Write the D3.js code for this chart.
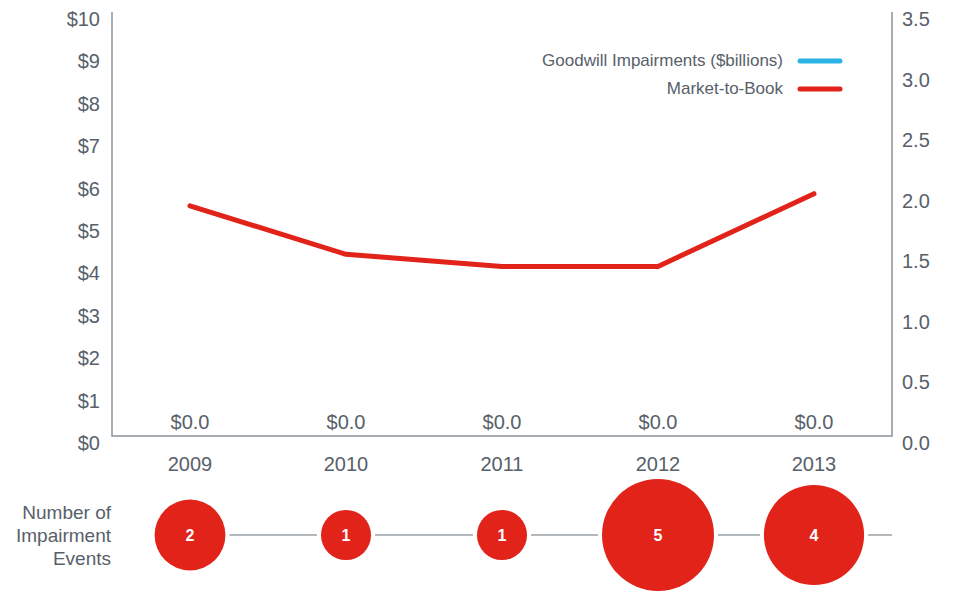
<!DOCTYPE html>
<html><head><meta charset="utf-8">
<script src="https://cdn.jsdelivr.net/npm/d3@7"></script>
<style>body{margin:0;background:#fff}svg{display:block}text{font-family:"Liberation Sans",Arial,sans-serif}</style>
</head><body><svg id="c" width="954" height="591"></svg>
<script>
const years = ["2009","2010","2011","2012","2013"];
const impairments = [0.0, 0.0, 0.0, 0.0, 0.0];
const marketToBook = [1.9, 1.5, 1.4, 1.4, 2.0];
const events = [2, 1, 1, 5, 4];
const leftTicks = [0,1,2,3,4,5,6,7,8,9,10];
const rightTicks = [0,0.5,1,1.5,2,2.5,3,3.5];
const legendLabels = ["Goodwill Impairments ($billions)", "Market-to-Book"];
const colors = {blue:"#2bb3e6", red:"#e2231a", axis:"#8c9299", text:"#58606a"};

const svg = d3.select("#c");
const L = 112, R = 892, T = 12, B = 436;
const x = d3.scaleBand().domain(years).range([L, R]);
const yL = d3.scaleLinear().domain([0, 10]).range([B, T]);
const yR = d3.scaleLinear().domain([0, 3.5]).range([B, T]);

svg.append("path").attr("d", `M${L},${T}V${B}H${R}V${T}`).attr("fill","none")
  .attr("stroke", colors.axis).attr("stroke-width", 1.5);

svg.append("g").selectAll("text").data(leftTicks).join("text")
  .attr("x", 100).attr("y", d => yL(d) + 7).attr("dy","0.35em").attr("text-anchor","end")
  .attr("font-size", 20).attr("fill", colors.text).text(d => "$" + d);
svg.append("g").selectAll("text").data(rightTicks).join("text")
  .attr("x", 902).attr("y", d => yR(d) + 7).attr("dy","0.35em").attr("text-anchor","start")
  .attr("font-size", 20).attr("fill", colors.text).text(d => d3.format(".1f")(d));
svg.append("g").selectAll("text").data(years).join("text")
  .attr("x", d => x(d) + x.bandwidth()/2).attr("y", 464).attr("dy","0.35em").attr("text-anchor","middle")
  .attr("font-size", 20).attr("fill", colors.text).text(d => d);
svg.append("g").selectAll("text").data(impairments).join("text")
  .attr("x", (d,i) => x(years[i]) + x.bandwidth()/2).attr("y", (d) => yL(d) - 14).attr("dy","0.35em")
  .attr("text-anchor","middle").attr("font-size", 20).attr("fill", colors.text)
  .text(d => "$" + d3.format(".1f")(d));

const line = d3.line().x((d,i) => x(years[i]) + x.bandwidth()/2).y(d => yR(d));
svg.append("path").datum(marketToBook).attr("d", line).attr("fill","none")
  .attr("stroke", colors.red).attr("stroke-width", 5).attr("stroke-linecap","round").attr("stroke-linejoin","round");

const lg = svg.append("g");
legendLabels.forEach((t, i) => {
  const yy = 60 + i * 28;
  lg.append("text").attr("x", 783).attr("y", yy).attr("dy","0.35em").attr("text-anchor","end")
    .attr("font-size", 17).attr("fill", colors.text).text(t);
  lg.append("line").attr("x1", 800).attr("x2", 840).attr("y1", yy+1).attr("y2", yy+1)
    .attr("stroke", i === 0 ? colors.blue : colors.red).attr("stroke-width", 5).attr("stroke-linecap","round");
});

const cy = 535;
const r = d3.scaleSqrt().domain([0, 5]).range([0, 56]);
const cx = i => x(years[i]) + x.bandwidth()/2;
const gap = 4;
const segs = [];
for (let i = 0; i < events.length - 1; i++) {
  segs.push([cx(i) + r(events[i]) + gap, cx(i+1) - r(events[i+1]) - gap]);
}
segs.push([cx(events.length-1) + r(events[events.length-1]) + gap, R]);
svg.append("g").selectAll("line").data(segs).join("line")
  .attr("x1", d => d[0]).attr("x2", d => d[1]).attr("y1", cy).attr("y2", cy)
  .attr("stroke", "#9aa0a6").attr("stroke-width", 1.5);
svg.append("g").selectAll("circle").data(events).join("circle")
  .attr("cx", (d,i) => cx(i)).attr("cy", cy).attr("r", d => r(d)).attr("fill", colors.red);
svg.append("g").selectAll("text").data(events).join("text")
  .attr("x", (d,i) => cx(i)).attr("y", cy).attr("dy","0.35em").attr("text-anchor","middle")
  .attr("font-size", 16).attr("font-weight","bold").attr("fill","#fff").text(d => d);

svg.append("text").attr("text-anchor","end").attr("font-size", 19).attr("fill", colors.text)
  .selectAll("tspan").data(["Number of","Impairment","Events"]).join("tspan")
  .attr("x", 111).attr("y", (d,i) => 512 + i*23).attr("dy","0.35em").text(d => d);
</script></body></html>
